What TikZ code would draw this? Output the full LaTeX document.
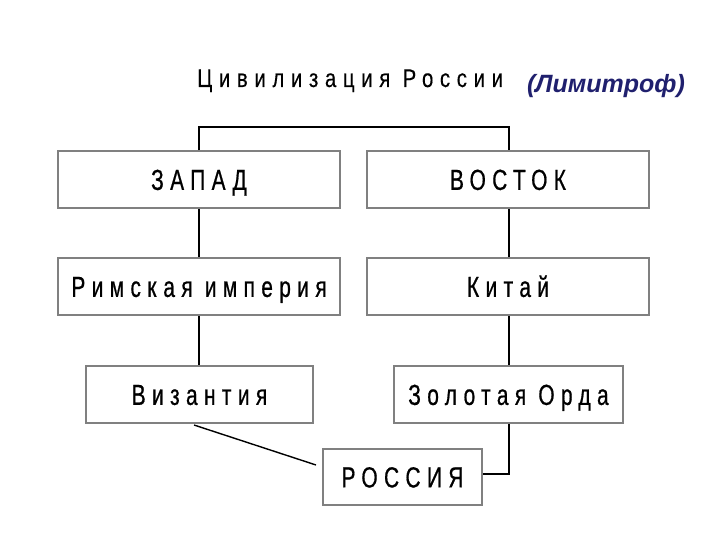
\documentclass[tikz,border=0pt]{standalone}
\usepackage{fontspec}
\setmainfont{Liberation Sans}
\newfontfamily\spaced{Liberation Sans}[FakeStretch=0.72,LetterSpace=22,FakeBold=0.6]
\newfontfamily\titlefont{Liberation Sans}[FakeStretch=0.8,LetterSpace=26,FakeBold=0.3]
\definecolor{navy}{RGB}{32,32,110}
\definecolor{boxgray}{RGB}{128,128,128}
\begin{document}
\begin{tikzpicture}[x=1pt,y=-1pt,
  box/.style={draw=boxgray,line width=1.6pt,fill=white,inner sep=0pt,
    text height=20.8pt,text depth=0pt,
    font=\spaced\fontsize{29}{32}\selectfont,text=black},
  conn/.style={draw=black,line width=1.6pt},
  thin/.style={draw=black,line width=1.4pt}]
\useasboundingbox (0,0) rectangle (720,540);
\node[anchor=base west,inner sep=0pt,font=\titlefont\fontsize{25.5}{28}\selectfont] (title) at (197,87) {Цивилизация России};
\node[anchor=base,inner sep=0pt,text=navy,font=\bfseries\itshape\fontsize{25}{28}\selectfont] (lim) at (606,93) {(Лимитроф)};
\node[box,minimum width=282pt,minimum height=57pt] (zapad) at (199,179.5) {ЗАПАД};
\node[box,minimum width=282pt,minimum height=57pt] (vostok) at (508,179.5) {ВОСТОК};
\node[box,minimum width=282pt,minimum height=57pt] (rim) at (199,286.5) {Римская империя};
\node[box,minimum width=282pt,minimum height=57pt] (kitai) at (508,286.5) {Китай};
\node[box,minimum width=227pt,minimum height=57pt] (viz) at (199.5,394.5) {Византия};
\node[box,minimum width=229pt,minimum height=57pt] (zo) at (508.5,394.5) {Золотая Орда};
\node[box,minimum width=159pt,minimum height=56pt] (ros) at (402.5,477) {РОССИЯ};
\coordinate (tl) at (199,127);
\coordinate (tr) at (509,127);
\coordinate (bz) at (509,474);
\coordinate (d1) at (194,425);
\coordinate (d2) at (316,465);
\draw[conn] (zapad.north -| tl) -- (tl) -- (tr) -- (vostok.north -| tr);
\draw[conn] (zapad.south -| tl) -- (rim.north -| tl);
\draw[conn] (rim.south -| tl) -- (viz.north -| tl);
\draw[conn] (vostok.south -| tr) -- (kitai.north -| tr);
\draw[conn] (kitai.south -| tr) -- (zo.north -| tr);
\draw[conn] (zo.south -| tr) -- (bz) -- (ros.east |- bz);
\draw[thin] (d1) -- (d2);
\end{tikzpicture}
\end{document}
